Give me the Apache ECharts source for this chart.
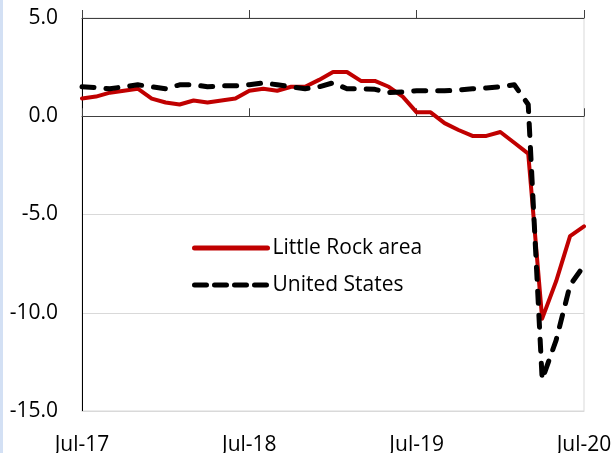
<!DOCTYPE html>
<html>
<head>
<meta charset="utf-8">
<script src="https://cdn.jsdelivr.net/npm/echarts@6/dist/echarts.min.js"></script>
<style>
  html, body { margin: 0; padding: 0; background: #fff; }
  #wrap { position: relative; width: 616px; height: 453px; }
  #chart { width: 616px; height: 453px; }
  #edge { position: absolute; left: 0; top: 0; width: 3px; height: 453px; background: #d3e0f4; }
</style>
</head>
<body>
<div id="wrap">
  <div id="chart"></div>
  <div id="edge"></div>
</div>
<script>
  // months, Jul-17 .. Jul-20
  var months = [
    'Jul-17', 'Aug-17', 'Sep-17', 'Oct-17', 'Nov-17', 'Dec-17',
    'Jan-18', 'Feb-18', 'Mar-18', 'Apr-18', 'May-18', 'Jun-18',
    'Jul-18', 'Aug-18', 'Sep-18', 'Oct-18', 'Nov-18', 'Dec-18',
    'Jan-19', 'Feb-19', 'Mar-19', 'Apr-19', 'May-19', 'Jun-19',
    'Jul-19', 'Aug-19', 'Sep-19', 'Oct-19', 'Nov-19', 'Dec-19',
    'Jan-20', 'Feb-20', 'Mar-20', 'Apr-20', 'May-20', 'Jun-20',
    'Jul-20'
  ];

  // over-the-year % change
  var littleRock = [
    0.9, 1.0, 1.2, 1.3, 1.4, 0.9, 0.7, 0.6, 0.8, 0.7, 0.8, 0.9,
    1.3, 1.4, 1.3, 1.5, 1.5, 1.85, 2.25, 2.25, 1.8, 1.8, 1.5, 1.0,
    0.2, 0.2, -0.35, -0.7, -1.0, -1.0, -0.8, -1.35, -1.9, -10.3, -8.4, -6.1,
    -5.6
  ];
  var unitedStates = [
    1.5, 1.45, 1.4, 1.5, 1.6, 1.5, 1.4, 1.6, 1.6, 1.5, 1.55, 1.55,
    1.6, 1.7, 1.6, 1.5, 1.4, 1.5, 1.7, 1.4, 1.4, 1.37, 1.2, 1.24,
    1.3, 1.3, 1.3, 1.33, 1.4, 1.44, 1.5, 1.6, 0.6, -13.4, -11.4, -8.6,
    -7.6
  ];

  var FONT = '"Open Sans", sans-serif';

  var chart = echarts.init(document.getElementById('chart'));

  chart.setOption({
    animation: false,
    backgroundColor: '#fff',
    grid: {
      left: 82, right: 32, top: 18, bottom: 42,
      outerBoundsMode: 'none',
      containLabel: false,
      show: true, borderColor: '#d9d9d9', borderWidth: 1
    },
    legend: {
      orient: 'vertical',
      left: 192,
      top: 236,
      padding: 0,
      itemWidth: 73,
      itemHeight: 14,
      itemGap: 13,
      itemStyle: { opacity: 0 },
      textStyle: { fontFamily: FONT, fontSize: 21, color: '#000', lineHeight: 24 },
      data: [
        { name: 'Little Rock area', lineStyle: { width: 5, color: '#c00000', cap: 'round' } },
        { name: 'United States', lineStyle: { width: 5, color: '#000', type: [12, 8], cap: 'round' } }
      ]
    },
    xAxis: [
      {
        // zero line, ticks above
        type: 'category', data: months, boundaryGap: false,
        axisLine: { onZero: true, lineStyle: { color: '#404040', width: 1 } },
        axisTick: { show: true, inside: true, length: 8, interval: 11, lineStyle: { color: '#404040' } },
        axisLabel: { show: false },
        splitLine: { show: false }
      },
      {
        // zero line, ticks below
        type: 'category', data: months, boundaryGap: false,
        axisLine: { onZero: true, lineStyle: { color: '#404040', width: 1 } },
        axisTick: { show: true, inside: false, length: 8, interval: 11, lineStyle: { color: '#404040' } },
        axisLabel: { show: false },
        splitLine: { show: false }
      },
      {
        // labels at the bottom
        type: 'category', data: months, boundaryGap: false, position: 'bottom',
        axisLine: { onZero: false, lineStyle: { color: '#d9d9d9' } },
        axisTick: { show: false },
        axisLabel: {
          interval: 11, margin: 24, fontFamily: FONT, fontSize: 21, color: '#000',
          showMinLabel: true, showMaxLabel: true
        }
      }
    ],
    yAxis: {
      type: 'value', min: -15, max: 5, interval: 5,
      axisLine: { show: true, onZero: false, lineStyle: { color: '#000', width: 1 } },
      axisTick: { show: false },
      axisLabel: {
        margin: 24, fontFamily: FONT, fontSize: 21, color: '#000',
        formatter: function(v) { return v.toFixed(1); }
      },
      splitLine: { show: true, lineStyle: { color: '#d9d9d9', width: 1 } }
    },
    series: [
      {
        name: 'Little Rock area',
        type: 'line',
        xAxisIndex: 0,
        data: littleRock,
        showSymbol: false,
        symbol: 'none',
        lineStyle: { color: '#c00000', width: 4, join: 'round', cap: 'round' },
        itemStyle: { color: '#c00000' },
        z: 3
      },
      {
        name: 'United States',
        type: 'line',
        xAxisIndex: 0,
        data: unitedStates,
        showSymbol: false,
        symbol: 'none',
        lineStyle: { color: '#000', width: 5, type: [12, 12], cap: 'round', join: 'round' },
        itemStyle: { color: '#000' },
        z: 4
      }
    ]
  });

  window.addEventListener('resize', function() { chart.resize(); });
</script>
</body>
</html>
